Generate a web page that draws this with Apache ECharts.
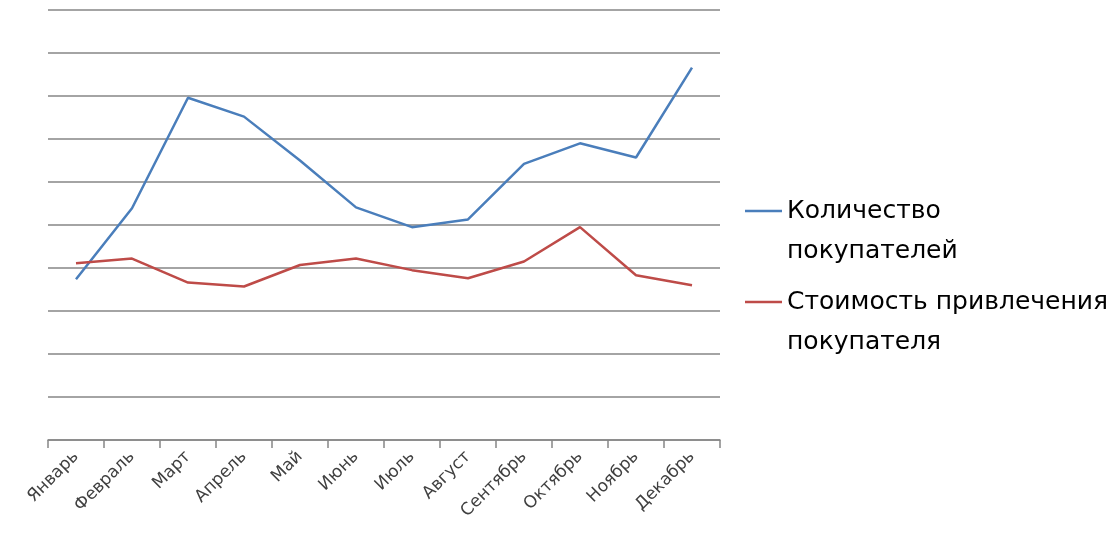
<!DOCTYPE html>
<html>
<head>
<meta charset="utf-8">
<script src="https://cdn.jsdelivr.net/npm/echarts@6/dist/echarts.min.js"></script>
<style>
  html, body { margin: 0; padding: 0; background: #fff; }
  #main { width: 1117px; height: 545px; }
</style>
</head>
<body>
<div id="main"></div>
<script>
// месяцы
var months = ['Январь', 'Февраль', 'Март', 'Апрель', 'Май', 'Июнь', 'Июль', 'Август', 'Сентябрь', 'Октябрь', 'Ноябрь', 'Декабрь'];
// количество покупателей
var buyers = [3.74, 5.39, 7.96, 7.52, 6.5, 5.41, 4.95, 5.13, 6.42, 6.9, 6.57, 8.66];
// стоимость привлечения
var cost = [4.11, 4.22, 3.66, 3.57, 4.07, 4.22, 3.95, 3.76, 4.15, 4.95, 3.83, 3.6];

var myChart = echarts.init(document.getElementById('main'));

myChart.setOption({
  animation: false,
  backgroundColor: '#fff',
  grid: {
    left: 48,
    right: 397,
    top: 10,
    bottom: 105,
    containLabel: false
  },
  legend: {
    orient: 'vertical',
    left: 745,
    top: 151,
    padding: 0,
    icon: 'rect',
    itemWidth: 37,
    itemHeight: 2.5,
    itemGap: -29,
    data: ['Количество\nпокупателей', 'Стоимость привлечения\nпокупателя'],
    // пустая строка сверху, чтобы линия была напротив первой строки
    formatter: function (name) {
      return ' \n' + name;
    },
    textStyle: {
      fontFamily: 'DejaVu Sans',
      fontSize: 25,
      color: '#000',
      lineHeight: 40
    }
  },
  xAxis: {
    type: 'category',
    data: months,
    boundaryGap: true,
    axisLine: { lineStyle: { color: '#868686', width: 1.5 } },
    axisTick: { show: true, length: 8, lineStyle: { color: '#868686', width: 1.5 } },
    axisLabel: {
      rotate: 45,
      interval: 0,
      margin: 14,
      fontFamily: 'DejaVu Sans',
      fontSize: 17,
      color: '#404040'
    }
  },
  yAxis: {
    type: 'value',
    min: 0,
    max: 10,
    interval: 1,
    axisLine: { show: false },
    axisTick: { show: false },
    axisLabel: { show: false },
    splitLine: { lineStyle: { color: '#868686', width: 1.5 } }
  },
  series: [{
    name: 'Количество\nпокупателей',
    type: 'line',
    data: buyers,
    symbol: 'none',
    color: '#4a7ebb',
    lineStyle: { color: '#4a7ebb', width: 2.5 }
  }, {
    name: 'Стоимость привлечения\nпокупателя',
    type: 'line',
    data: cost,
    symbol: 'none',
    color: '#be4b48',
    lineStyle: { color: '#be4b48', width: 2.5 }
  }]
});
</script>
</body>
</html>
